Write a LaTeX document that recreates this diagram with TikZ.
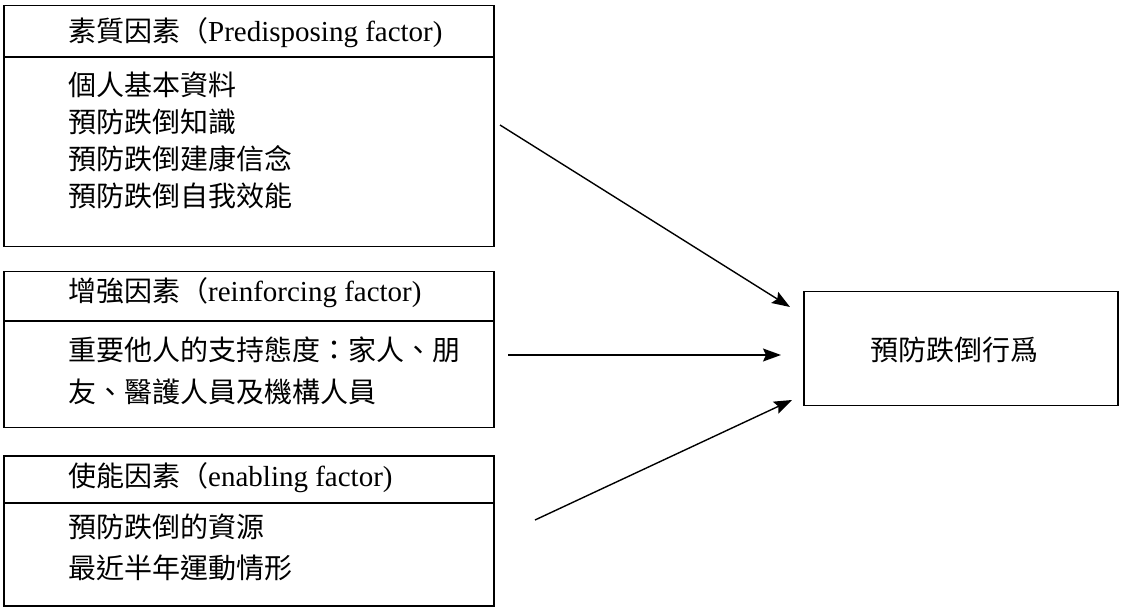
\documentclass[tikz,border=0pt]{standalone}
\usepackage{fontspec}
\setmainfont{Liberation Serif}
\newfontfamily\cjk{Noto Sans CJK TC}
\usetikzlibrary{arrows.meta}
\tikzset{
  box/.style={draw,line width=1.5pt,inner sep=0pt,anchor=north west},
  txt/.style={anchor=west,inner sep=0pt,font=\fontsize{28}{30}\selectfont},
  lat/.style={font=\fontsize{29}{30}\selectfont},
  arr/.style={line width=1.4pt,-{Stealth[length=18pt,width=13pt,inset=3pt]}}
}
\begin{document}
\begin{tikzpicture}[x=1pt,y=-1pt]
				\useasboundingbox (0,0) rectangle (1122,609);
				\node[box,minimum width=490pt,minimum height=241pt] (pre) at (3,5) {};
				\node[box,minimum width=490pt,minimum height=156pt] (rei) at (3,271) {};
				\node[box,minimum width=490pt,minimum height=150pt] (ena) at (3,455) {};
				\node[box,minimum width=314pt,minimum height=114pt] (beh) at (803,291) {};
				\draw[line width=1.2pt] (pre.west |- 0,57) -- (pre.east |- 0,57);
				\draw[line width=1.2pt] (rei.west |- 0,321) -- (rei.east |- 0,321);
				\draw[line width=1.2pt] (ena.west |- 0,503) -- (ena.east |- 0,503);
				\node[txt] (preh) at (68,33) {{\cjk 素質因素（}{\fontsize{29}{30}\selectfont Predisposing factor)}};
				\node[txt] (pre1) at (68,85) {\cjk 個人基本資料};
				\node[txt] (pre2) at (68,122) {\cjk 預防跌倒知識};
				\node[txt] (pre3) at (68,159) {\cjk 預防跌倒建康信念};
				\node[txt] (pre4) at (68,196) {\cjk 預防跌倒自我效能};
				\node[txt] (reih) at (68,293) {{\cjk 增強因素（}{\fontsize{29}{30}\selectfont reinforcing factor)}};
				\node[txt] (rei1) at (68,350) {\cjk 重要他人的支持態度：家人、朋};
				\node[txt] (rei2) at (68,392) {\cjk 友、醫護人員及機構人員};
				\node[txt] (enah) at (68,478) {{\cjk 使能因素（}{\fontsize{29}{30}\selectfont enabling factor)}};
				\node[txt] (ena1) at (68,527) {\cjk 預防跌倒的資源};
				\node[txt] (ena2) at (68,568) {\cjk 最近半年運動情形};
				\node[txt,anchor=center] (behl) at (954,350) {\cjk 預防跌倒行爲};
				\coordinate (s1) at (500,125);
				\coordinate (s2) at (508,355);
				\coordinate (s3) at (535,520);
				\coordinate (t1) at (790,307);
				\coordinate (t2) at (781,355);
				\coordinate (t3) at (792,400);
				\draw[arr] (s1) -- (t1);
				\draw[arr] (s2) -- (t2);
				\draw[arr] (s3) -- (t3);
\end{tikzpicture}
\end{document}
